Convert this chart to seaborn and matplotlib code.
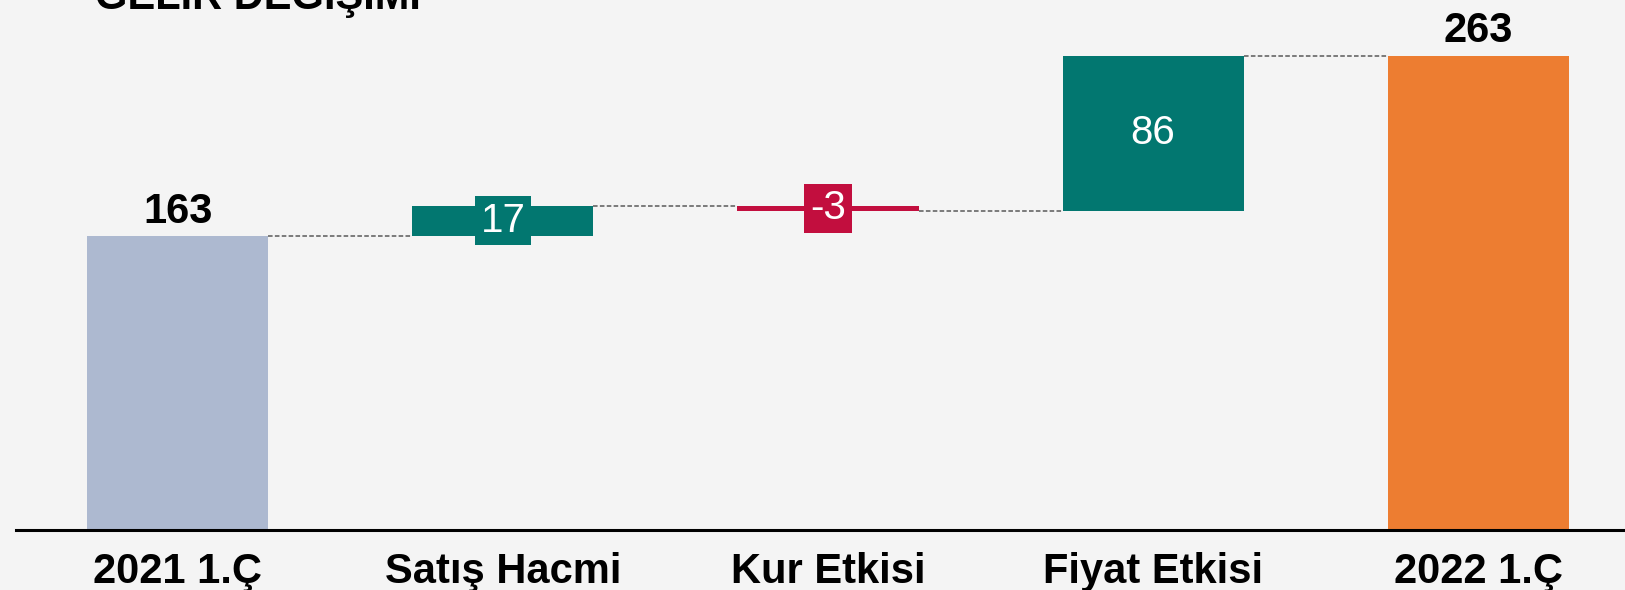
import matplotlib
matplotlib.use('Agg')
import pandas as pd
import seaborn as sns
import matplotlib.pyplot as plt

# Waterfall data: two totals with three effects between them
categories = ['2021 1.Ç', 'Satış Hacmi', 'Kur Etkisi', 'Fiyat Etkisi', '2022 1.Ç']
values = [163, 17, -3, 86, 263]
is_total = [True, False, False, False, True]
colors = ['#ADB9D0', '#027770', '#C20E3E', '#027770', '#ED7D31']
title = 'GELİR DEĞİŞİMİ'

# Running level -> bar bottoms and tops
bottoms, tops = [], []
level = 0
for v, tot in zip(values, is_total):
    if tot:
        bottoms.append(0)
        level = v
    else:
        bottoms.append(level)
        level += v
    tops.append(level)

df = pd.DataFrame({'cat': categories, 'value': values, 'bottom': bottoms})

bg = '#F4F4F4'
sns.set_theme(style='white')
plt.rcParams['font.family'] = ['Liberation Sans', 'DejaVu Sans']

fig = plt.figure(figsize=(16.25, 5.9), dpi=100, facecolor=bg)
ax = fig.add_axes([16 / 1625, 60 / 590, 1 - 16 / 1625, 530 / 590])
ax.set_facecolor(bg)

bar_w = 0.557
# color given so seaborn does not probe ax.bar with the bottom array
sns.barplot(data=df, x='cat', y='value', bottom=df['bottom'].values,
            width=bar_w, color=colors[0], saturation=1, errorbar=None,
            linewidth=0, ax=ax)
for patch, c in zip(ax.patches, colors):
    patch.set_facecolor(c)

# Dashed connectors between bars
for i in range(len(categories) - 1):
    ax.plot([i + bar_w / 2, i + 1 - bar_w / 2], [tops[i], tops[i]],
            color='#5A5A5A', lw=1.1, ls=(0, (3, 1.5)))

# Value labels
for i, (v, tot, b, t) in enumerate(zip(values, is_total, bottoms, tops)):
    if tot:
        ax.text(i, t + 7.5, str(v), ha='center', va='baseline',
                fontsize=30, fontweight='bold', color='black')
    else:
        ax.text(i, (b + t) / 2, str(v), ha='center', va='center',
                fontsize=29, color='white',
                bbox=dict(boxstyle='square,pad=0.14', fc=colors[i], ec='none'))

ax.set_xlim(-0.498, 4.452)
ax.set_ylim(0, 294)
ax.set_yticks([])
ax.set_xlabel('')
ax.set_ylabel('')
sns.despine(ax=ax, left=True)
ax.spines['bottom'].set_color('black')
ax.spines['bottom'].set_linewidth(2.2)
ax.tick_params(axis='x', length=0, pad=16)
for lab in ax.get_xticklabels():
    lab.set_fontsize(30)
    lab.set_fontweight('bold')
    lab.set_color('black')

# title sits partly above the top edge, as in the source slide
fig.text(95 / 1625, 1 - 9 / 590, title, fontsize=30, fontweight='bold',
         ha='left', va='baseline', color='black')

fig.savefig('out.png', dpi=100, facecolor=bg)
